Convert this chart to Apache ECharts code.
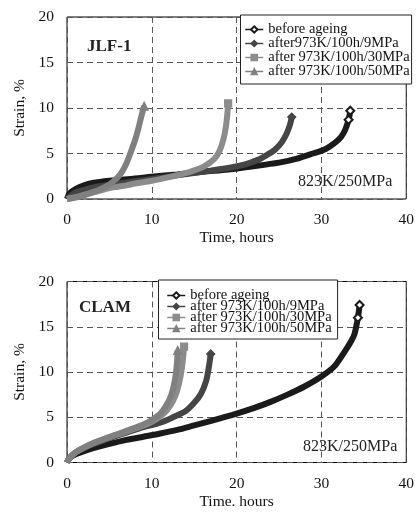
<!DOCTYPE html>
<html><head><meta charset="utf-8">
<script src="https://cdn.jsdelivr.net/npm/echarts@6/dist/echarts.min.js"></script>
<style>html,body{margin:0;padding:0;background:#fff}#c{width:417px;height:515px}</style>
</head><body><div id="c"></div><script>
// tick labels
const xTicks = [0, 10, 20, 30, 40];
const yTicks = [0, 5, 10, 15, 20];
const namesTop = ['before ageing', 'after973K/100h/9MPa', 'after 973K/100h/30MPa', 'after 973K/100h/50MPa'];
const namesBottom = ['before ageing', 'after 973K/100h/9MPa', 'after 973K/100h/30MPa', 'after 973K/100h/50MPa'];

// JLF-1 (time, hours / strain, %)
const jlfBeforeT = [0, 0.3, 1, 2, 3, 5, 8, 10, 13, 16, 19, 22, 25, 27, 29, 30.5, 31.5, 32.3, 32.8, 33.2, 33.4];
const jlfBeforeS = [0, 0.6, 1.1, 1.5, 1.75, 2.0, 2.25, 2.45, 2.7, 3.0, 3.25, 3.6, 4.0, 4.4, 5.0, 5.5, 6.1, 6.8, 7.6, 8.7, 9.7];
const jlf9T = [0, 0.5, 1, 2, 3, 5, 8, 10, 13, 16, 19, 21, 22.5, 23.5, 24.5, 25.3, 25.9, 26.3, 26.5];
const jlf9S = [0, 0.4, 0.7, 1.0, 1.25, 1.55, 1.95, 2.2, 2.6, 3.0, 3.4, 3.8, 4.3, 4.8, 5.4, 6.2, 7.2, 8.2, 9.0];
const jlf30T = [0, 1, 2, 3, 4, 5, 6, 7, 8, 10, 12, 14, 15, 16, 17, 17.7, 18.2, 18.6, 18.85, 19.0];
const jlf30S = [0, 0.2, 0.45, 0.7, 0.95, 1.2, 1.35, 1.5, 1.7, 2.0, 2.4, 2.85, 3.15, 3.5, 4.1, 4.8, 5.8, 7.2, 8.8, 10.5];
const jlf50T = [0, 1, 2, 3, 4, 5, 6, 6.5, 7, 7.5, 8, 8.4, 8.8, 9.1];
const jlf50S = [0, 0.15, 0.4, 0.75, 1.1, 1.6, 2.4, 3.0, 3.9, 5.1, 6.4, 7.7, 9.2, 10.2];

// CLAM
const clamBeforeT = [0, 0.3, 1, 2, 3, 5, 7, 9, 11, 13, 15, 17, 20, 22, 24, 26, 28, 30, 31.5, 32.7, 33.5, 33.9, 34.3, 34.5];
const clamBeforeS = [0, 0.5, 0.9, 1.25, 1.55, 2.05, 2.5, 2.85, 3.2, 3.6, 4.1, 4.6, 5.4, 6.0, 6.7, 7.5, 8.4, 9.5, 10.6, 12.2, 13.4, 14.2, 16.0, 17.4];
const clam9T = [0, 0.3, 1, 2, 3, 5, 7, 9, 11, 12.5, 14, 15, 15.8, 16.4, 16.7, 16.95];
const clam9S = [0, 0.5, 1.1, 1.6, 2.0, 2.7, 3.3, 3.9, 4.4, 5.0, 5.7, 6.6, 7.6, 9.0, 10.4, 12.0];
const clam30T = [0, 0.3, 1, 2, 3, 5, 7, 9, 10, 11, 11.8, 12.5, 13, 13.4, 13.65, 13.8];
const clam30S = [0, 0.5, 1.1, 1.65, 2.1, 2.8, 3.4, 4.1, 4.5, 5.1, 5.8, 6.8, 8.0, 9.6, 11.2, 12.8];
const clam50T = [0, 0.3, 1, 2, 3, 5, 7, 9, 10, 11, 11.7, 12.3, 12.7, 12.95, 13.05];
const clam50S = [0, 0.5, 1.1, 1.65, 2.1, 2.8, 3.5, 4.2, 4.7, 5.4, 6.3, 7.5, 9.0, 10.8, 12.4];

const FONT = "'Liberation Serif','Times New Roman',serif";
const styles = [
  {color: '#1a1a1a', symbol: 'emptyDiamond', size: 8, marks: 2},
  {color: '#454545', symbol: 'diamond', size: 8, marks: 1},
  {color: '#8c8c8c', symbol: 'rect', size: 7, marks: 1},
  {color: '#808080', symbol: 'triangle', size: 8, marks: 1}
];

function mk(name, t, s, idx, st) {
  const data = t.map((x, i) => i >= t.length - st.marks ? {value: [x, s[i]]} : {value: [x, s[i]], symbol: 'none'});
  return {
    name, type: 'line', xAxisIndex: idx, yAxisIndex: idx, data,
    symbol: st.symbol, symbolSize: st.size, showSymbol: true, showAllSymbol: true,
    smooth: 0.3,
    lineStyle: {color: st.color, width: 6},
    itemStyle: {color: st.color, borderColor: st.color, borderWidth: 1.2},
    emphasis: {disabled: true}, silent: true, animation: false
  };
}

const series = [
  mk(namesTop[0], jlfBeforeT, jlfBeforeS, 0, styles[0]),
  mk(namesTop[1], jlf9T, jlf9S, 0, styles[1]),
  mk(namesTop[2], jlf30T, jlf30S, 0, styles[2]),
  mk(namesTop[3], jlf50T, jlf50S, 0, styles[3]),
  mk(namesBottom[0], clamBeforeT, clamBeforeS, 1, styles[0]),
  mk(namesBottom[1], clam9T, clam9S, 1, styles[1]),
  mk(namesBottom[2], clam30T, clam30S, 1, styles[2]),
  mk(namesBottom[3], clam50T, clam50S, 1, styles[3])
];

const splitLine = {show: true, lineStyle: {color: '#555', type: [6, 4], width: 1}};
function xAx(idx, name) {
  return {type: 'value', gridIndex: idx, min: xTicks[0], max: xTicks[xTicks.length - 1], interval: 10,
    name, nameLocation: 'middle', nameGap: 31,
    nameTextStyle: {fontFamily: FONT, fontSize: 15.5, color: '#111'},
    axisLine: {show: false}, axisTick: {show: false}, splitLine,
    axisLabel: {fontFamily: FONT, fontSize: 15.5, color: '#111', margin: 13}};
}
function yAx(idx) {
  return {type: 'value', gridIndex: idx, min: yTicks[0], max: yTicks[yTicks.length - 1], interval: 5,
    name: 'Strain, %', nameLocation: 'middle', nameGap: 37,
    nameTextStyle: {fontFamily: FONT, fontSize: 15.5, color: '#111'},
    axisLine: {show: false}, axisTick: {show: false}, splitLine,
    axisLabel: {fontFamily: FONT, fontSize: 15.5, color: '#111', margin: 13}};
}

const chart = echarts.init(document.getElementById('c'), null, {renderer: 'canvas'});
chart.setOption({
  animation: false,
  backgroundColor: '#fff',
  grid: [
    {left: 67, right: 8, top: 17, height: 182, show: true, borderColor: '#000', borderWidth: 1, backgroundColor: 'transparent'},
    {left: 67, right: 8, top: 281.5, height: 181, show: true, borderColor: '#000', borderWidth: 1, backgroundColor: 'transparent'}
  ],
  xAxis: [xAx(0, 'Time, hours'), xAx(1, 'Time. hours')],
  yAxis: [yAx(0), yAx(1)],
  legend: [
    {data: namesTop, orient: 'vertical', left: 240.5, top: 15, itemWidth: 18, itemHeight: 8, itemGap: -1,
     padding: [7, 2, 5, 4], borderColor: '#222', borderWidth: 1, backgroundColor: '#fff',
     selectedMode: false, lineStyle: {width: 1.5}, itemStyle: {borderWidth: 1.2},
     textStyle: {fontFamily: FONT, fontSize: 14.5, color: '#111'}},
    {data: namesBottom, orient: 'vertical', left: 158.5, top: 280, itemWidth: 18, itemHeight: 8, itemGap: -4,
     padding: [8, 6, 3, 8], borderColor: '#222', borderWidth: 1, backgroundColor: '#fff',
     selectedMode: false, lineStyle: {width: 1.5}, itemStyle: {borderWidth: 1.2},
     textStyle: {fontFamily: FONT, fontSize: 14.5, color: '#111'}}
  ],
  graphic: [
    {type: 'text', left: 87, top: 38, style: {text: 'JLF-1', font: 'bold 17px ' + FONT, fill: '#222'}},
    {type: 'text', left: 79, top: 299, style: {text: 'CLAM', font: 'bold 17px ' + FONT, fill: '#222'}},
    {type: 'text', left: 298, top: 174, style: {text: '823K/250MPa', font: '16px ' + FONT, fill: '#222'}},
    {type: 'text', left: 303, top: 439, style: {text: '823K/250MPa', font: '16px ' + FONT, fill: '#222'}}
  ],
  series
});
</script></body></html>
